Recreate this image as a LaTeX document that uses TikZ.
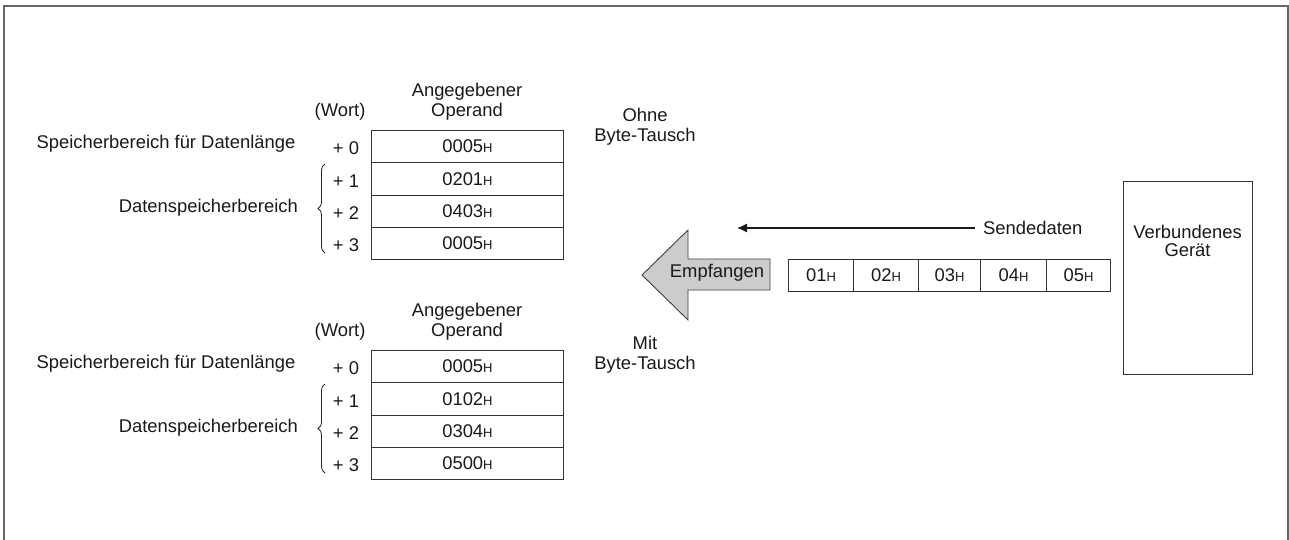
\documentclass[tikz,border=0pt]{standalone}
\usepackage{fontspec}
\setmainfont{Liberation Sans}
\usetikzlibrary{arrows.meta,decorations.pathreplacing}
\newcommand{\hx}[1]{#1{\fontsize{13}{13}\selectfont H}}
\begin{document}
\begin{tikzpicture}[x=1pt,y=-1pt,
  every node/.style={font=\fontsize{18.4}{20}\selectfont, inner sep=0pt, text=black!90},
  cell/.style={draw=black!80, line width=0.9pt, minimum width=192pt, minimum height=32.25pt, anchor=north west},
  bytecell/.style={draw=black!80, line width=0.9pt, minimum height=32pt, anchor=north west},
  lbl/.style={align=center},
  bracestyle/.style={line width=0.8pt, black!85, decorate, decoration={brace, amplitude=7pt}},
  frame/.style={draw=black!60, line width=1.3pt}]
\useasboundingbox (0,0) rectangle (1289,539);
\draw[frame] (4,545) -- (4,6) -- (1288,6) -- (1288,545);

% ---- upper table ----
\node[lbl] (hdrA) at (467,102) {Angegebener\\Operand};
\node (wortA) at (340,112) {(Wort)};
\node[cell] (a0) at (371,130) {\hx{0005}};
\node[cell] (a1) at (371,162.25) {\hx{0201}};
\node[cell] (a2) at (371,194.5) {\hx{0403}};
\node[cell] (a3) at (371,226.75) {\hx{0005}};
\node (pa0) at (346,148) {+ 0};
\node (pa1) at (346,181) {+ 1};
\node (pa2) at (346,213) {+ 2};
\node (pa3) at (346,245) {+ 3};
\node (lenA) at (166,144) {Speicherbereich für Datenlänge};
\node[anchor=east] (datA) at (298,208) {Datenspeicherbereich};
\draw[bracestyle] (325,253) -- (325,164);
\node[lbl] (ohne) at (645,127) {Ohne\\Byte-Tausch};

% ---- lower table ----
\node[lbl] (hdrB) at (467,322) {Angegebener\\Operand};
\node (wortB) at (340,332) {(Wort)};
\node[cell] (b0) at (371,350) {\hx{0005}};
\node[cell] (b1) at (371,382.25) {\hx{0102}};
\node[cell] (b2) at (371,414.5) {\hx{0304}};
\node[cell] (b3) at (371,446.75) {\hx{0500}};
\node (pb0) at (346,368) {+ 0};
\node (pb1) at (346,401) {+ 1};
\node (pb2) at (346,433) {+ 2};
\node (pb3) at (346,465) {+ 3};
\node (lenB) at (166,364) {Speicherbereich für Datenlänge};
\node[anchor=east] (datB) at (298,428) {Datenspeicherbereich};
\draw[bracestyle] (325,473) -- (325,384);
\node[lbl] (mit) at (645,355) {Mit\\Byte-Tausch};

% ---- receive arrow ----
\draw[fill=black!20, draw=black!75, line width=0.9pt]
  (770,259) -- (688,259) -- (688,230) -- (642,275) -- (688,320) -- (688,290) -- (770,290) -- cycle;
\node (emp) at (717,273) {Empfangen};

% ---- send data ----
\node[anchor=west] (send) at (983,228) {Sendedaten};
\coordinate (sendtip) at (737,228);
\draw[line width=1.2pt, black!90, -{Latex[length=10pt,width=9pt]}] ([xshift=-8pt]send.west) -- (sendtip);

\node[bytecell, minimum width=65pt] (d1) at (788,259) {\hx{01}};
\node[bytecell, minimum width=65pt] (d2) at (853,259) {\hx{02}};
\node[bytecell, minimum width=62pt] (d3) at (918,259) {\hx{03}};
\node[bytecell, minimum width=66pt] (d4) at (980,259) {\hx{04}};
\node[bytecell, minimum width=64pt] (d5) at (1046,259) {\hx{05}};

% ---- device ----
\node[draw=black!80, line width=0.9pt, minimum width=129pt, minimum height=193pt, anchor=north west] (dev) at (1123,181) {};
\node[lbl, font=\fontsize{18.4}{18.5}\selectfont] (devt) at (1187.5,241) {Verbundenes\\Gerät};
\end{tikzpicture}
\end{document}
